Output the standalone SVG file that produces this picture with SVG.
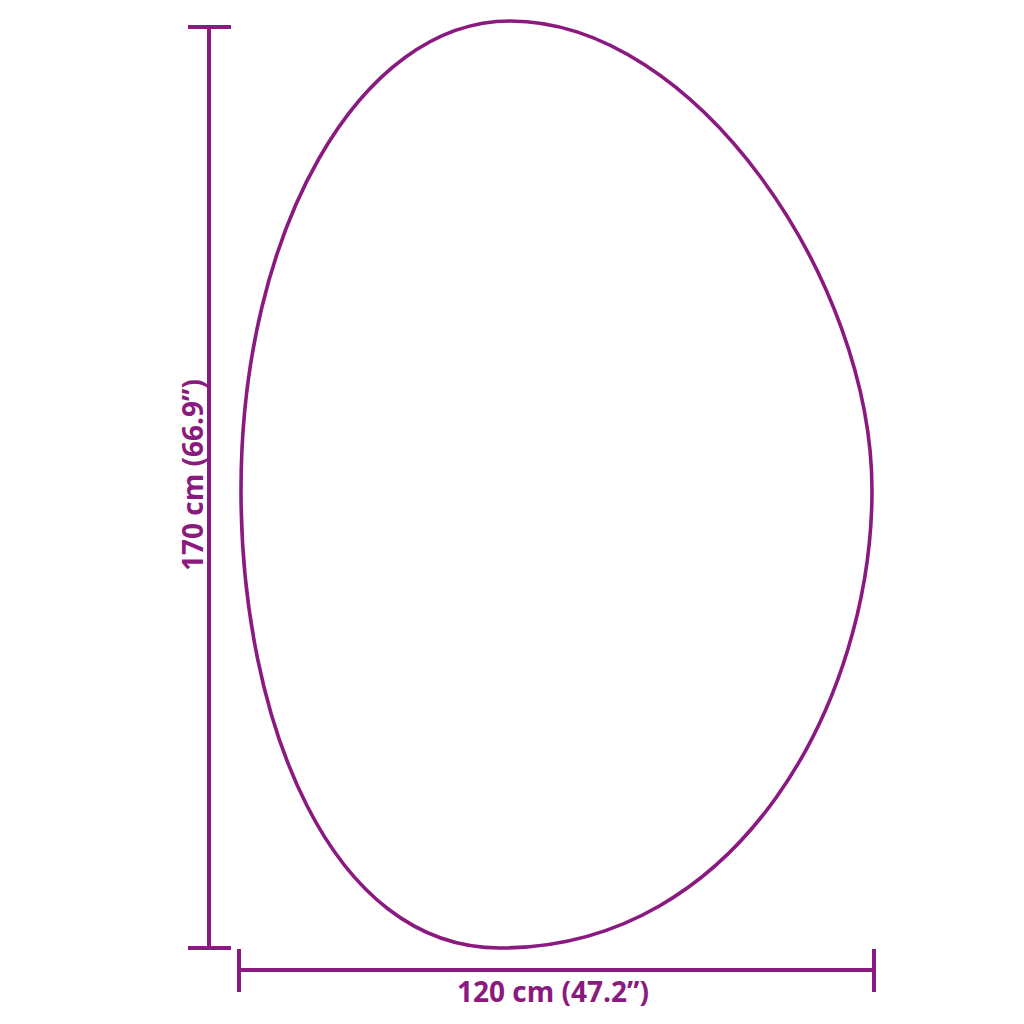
<svg xmlns="http://www.w3.org/2000/svg" width="1024" height="1024" viewBox="0 0 1024 1024">
<style>
.dim{stroke:#8b1a80;stroke-width:4;fill:none}
.shape{stroke:#8b1a80;stroke-width:3.6;fill:none}
.lbl{font-family:"Open Sans","Liberation Sans",sans-serif;font-weight:bold;font-size:28px;fill:#8b1a80;text-anchor:middle}
</style>
<rect width="1024" height="1024" fill="#fff"/>
<g id="mirror">
<path class="shape" d="M510,21 C695,21 872,280 872,490 C872,700 740,948 500,948 C330,948 241,720 241,490 C241,230 360,21 510,21 Z"/>
</g>
<g id="connectors">
<line class="dim" x1="209" y1="27" x2="209" y2="948"/>
<line class="dim" x1="188" y1="27" x2="231" y2="27"/>
<line class="dim" x1="188" y1="948" x2="231" y2="948"/>
<line class="dim" x1="239" y1="970" x2="874" y2="970"/>
<line class="dim" x1="239" y1="949" x2="239" y2="992"/>
<line class="dim" x1="874" y1="949" x2="874" y2="992"/>
</g>
<g id="labels">
<text class="lbl" x="553" y="1002">120 cm (47.2”)</text>
<text class="lbl" transform="translate(203,475) rotate(-90)">170 cm (66.9”)</text>
</g>
</svg>
